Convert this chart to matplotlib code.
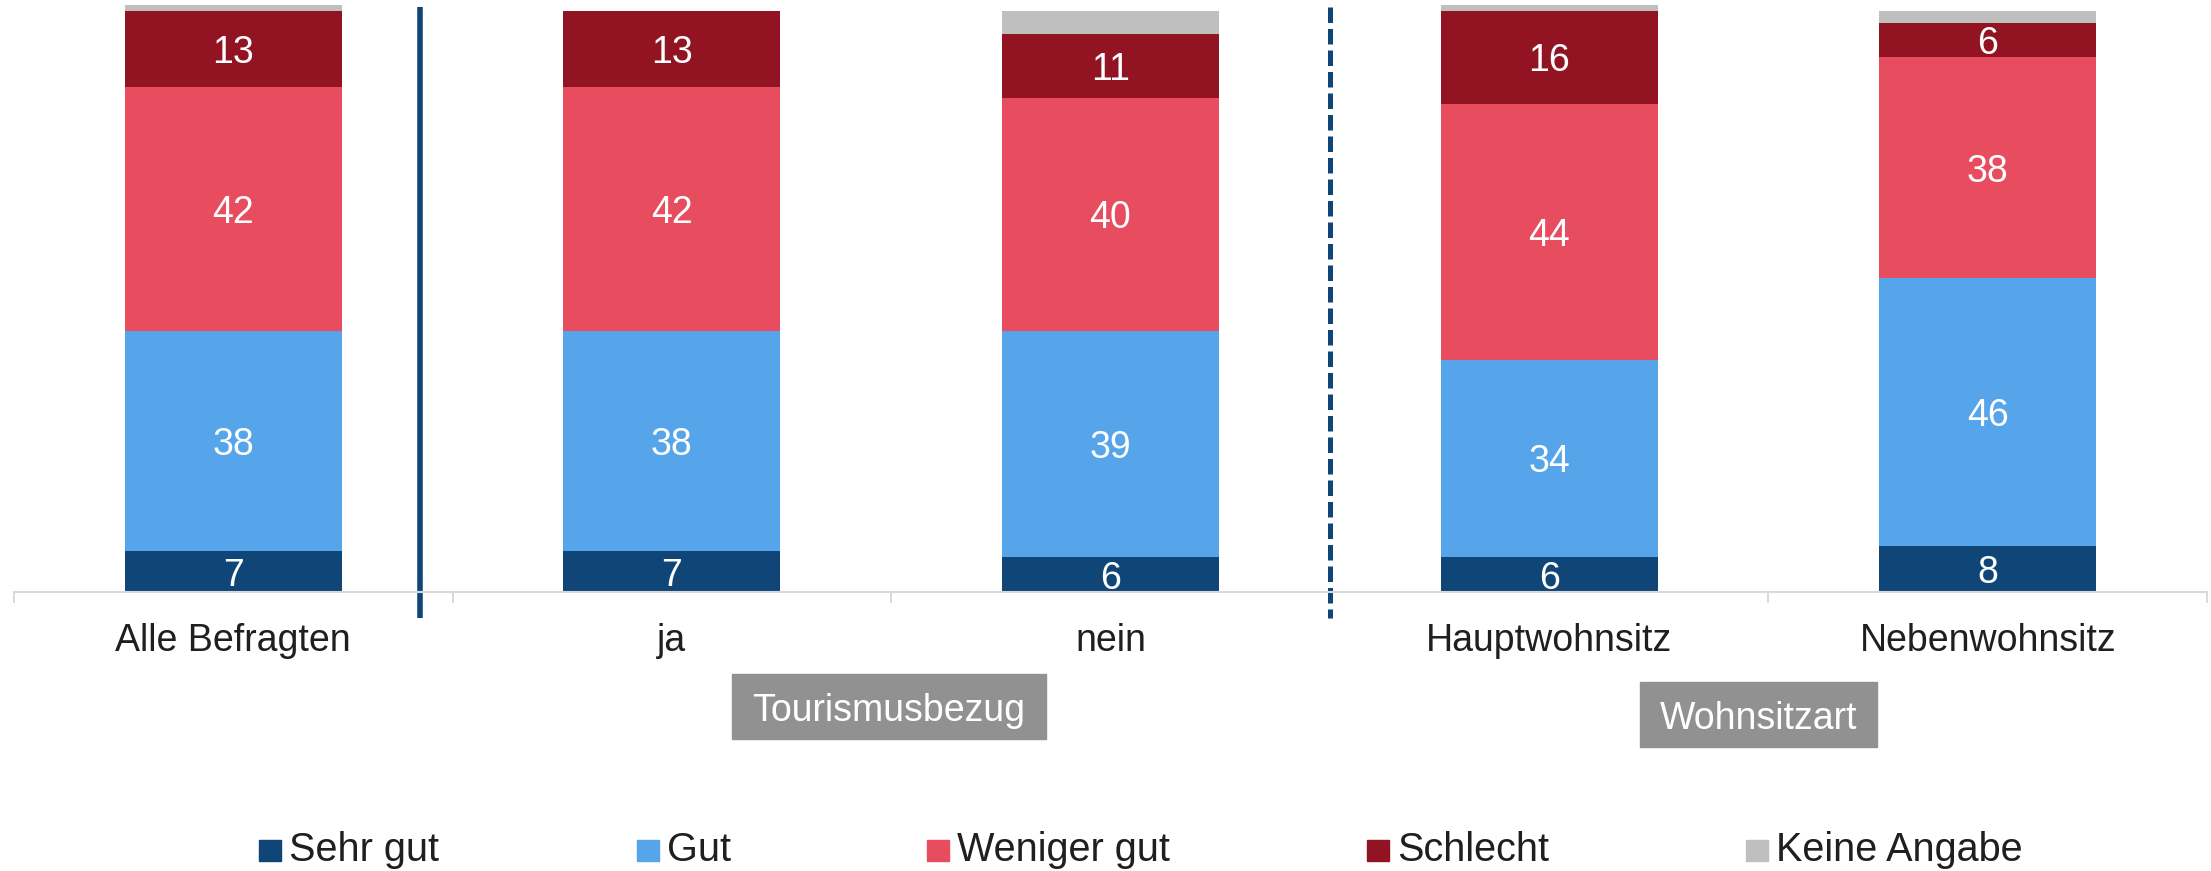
import matplotlib
matplotlib.use('Agg')
import matplotlib.pyplot as plt
from matplotlib.patches import Rectangle
import numpy as np

plt.rcParams['font.family'] = ['Liberation Sans', 'DejaVu Sans']

# data
categories = ['Alle Befragten', 'ja', 'nein', 'Hauptwohnsitz', 'Nebenwohnsitz']
series = ['Sehr gut', 'Gut', 'Weniger gut', 'Schlecht', 'Keine Angabe']
sehr_gut = [7, 7, 6, 6, 8]
gut = [38, 38, 39, 34, 46]
weniger_gut = [42, 42, 40, 44, 38]
schlecht = [13, 13, 11, 16, 6]
keine_angabe = [1, 0, 4, 1, 2]
groups = ['Tourismusbezug', 'Wohnsitzart']

colors = ['#104577', '#56a5ea', '#e84c5f', '#921423', '#bfbfbf']
values = [sehr_gut, gut, weniger_gut, schlecht, keine_angabe]

W, H = 2211, 871
fig = plt.figure(figsize=(W / 100, H / 100), dpi=100)
ax = fig.add_axes([14 / W, 279 / H, (2207 - 14) / W, 581 / H])

x = np.arange(len(categories))
bottom = np.zeros(len(categories))
for i, (name, vals) in enumerate(zip(series, values)):
    ax.bar(x, vals, 0.495, bottom=bottom, color=colors[i], label=name, clip_on=False)
    if name != 'Keine Angabe':
        for xi, b, v in zip(x, bottom, vals):
            ax.text(xi, b + v / 2, str(v), ha='center', va='center_baseline',
                    color='white', fontsize=27)
    bottom += np.array(vals)

ax.set_xlim(-0.5, len(categories) - 0.5)
ax.set_ylim(0, 100)
for s in ['top', 'left', 'right']:
    ax.spines[s].set_visible(False)
ax.spines['bottom'].set_color('#d9d9d9')
ax.spines['bottom'].set_linewidth(1.5)
ax.set_yticks([])
ax.set_xticks(x)
ax.set_xticklabels(categories)
ax.set_xticks(np.arange(-0.5, len(categories), 1), minor=True)
ax.tick_params(axis='x', which='major', length=0, pad=22, labelsize=27, labelcolor='#1f1f1f')
ax.tick_params(axis='x', which='minor', length=8, width=1.4, color='#d9d9d9')

# separators between groups
ax.plot([0.426, 0.426], [100.7, -4.5], color='#104577', lw=4, clip_on=False,
        solid_capstyle='butt')
ax.plot([2.5, 2.5], [100.7, -4.5], color='#104577', lw=3.6,
        linestyle=(0, (3.1, 1.2)), clip_on=False, dash_capstyle='butt')

# group label boxes
boxes = [(732, 674, 314, 65), (1640, 682, 237, 65)]
for name, (bx, by, bw, bh) in zip(groups, boxes):
    fig.add_artist(Rectangle((bx / W, (H - by - bh) / H), bw / W, bh / H,
                             transform=fig.transFigure, color='#919191'))
    fig.text((bx + bw / 2) / W, (H - by - bh / 2) / H, name, ha='center',
             va='center_baseline', color='white', fontsize=27)

# legend
legend_x = [259, 637, 927, 1367, 1746]
for name, c, lx in zip(series, colors, legend_x):
    fig.add_artist(Rectangle((lx / W, 10 / H), 22 / W, 21 / H,
                             transform=fig.transFigure, color=c))
    fig.text((lx + 30) / W, 10 / H, name, ha='left', va='baseline',
             color='#1f1f1f', fontsize=28.5)

fig.savefig('out.png', dpi=100)
